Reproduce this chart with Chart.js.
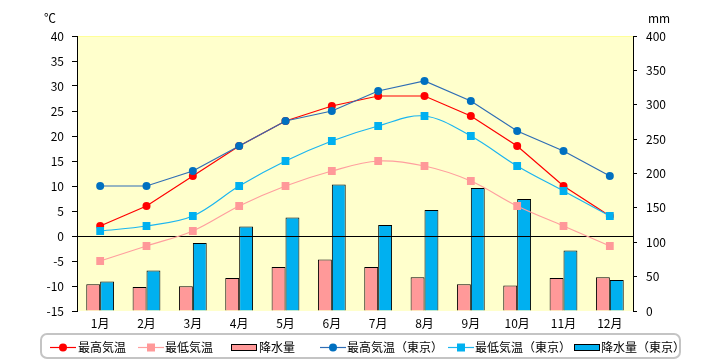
<!DOCTYPE html>
<html><head><meta charset="utf-8">
<script src="https://cdn.jsdelivr.net/npm/chart.js@4/dist/chart.umd.min.js"></script>
<style>html,body{margin:0;padding:0;background:#fff}canvas{display:block}</style>
</head><body>
<canvas id="c" width="720" height="360"></canvas>
<script>
const months = ['1月','2月','3月','4月','5月','6月','7月','8月','9月','10月','11月','12月'];
const maxTemp = [2, 6, 12, 18, 23, 26, 28, 28, 24, 18, 10, 4];
const minTemp = [-5, -2, 1, 6, 10, 13, 15, 14, 11, 6, 2, -2];
const rain = [39, 35, 36, 48, 64, 75, 64, 49, 39, 37, 48, 49];
const maxTempTokyo = [10, 10, 13, 18, 23, 25, 29, 31, 27, 21, 17, 12];
const minTempTokyo = [1, 2, 4, 10, 15, 19, 22, 24, 20, 14, 9, 4];
const rainTokyo = [43, 59, 99, 123, 136, 184, 125, 147, 179, 163, 88, 45];
const tempRange = {min: -15, max: 40, step: 5};
const rainRange = {min: 0, max: 400, step: 50};
const tempUnit = '℃';
const rainUnit = 'mm';

const FONT = '"Noto Sans CJK JP", "Noto Sans", sans-serif';

const datasets = [
  {type:'line', label:'最高気温', data:maxTemp, yAxisID:'y', order:4,
   borderColor:'#FF0000', backgroundColor:'#FF0000', borderWidth:1.2,
   pointStyle:'circle', pointRadius:4, pointBorderWidth:0, tension:0},
  {type:'line', label:'最低気温', data:minTemp, yAxisID:'y', order:3,
   borderColor:'#FF9F9F', backgroundColor:'#FF9999', borderWidth:1.2,
   pointStyle:'rect', pointRadius:5.5, pointBorderWidth:0, tension:0.35},
  {type:'bar', label:'降水量', data:rain, yAxisID:'y2', order:5,
   backgroundColor:'#FF9999', borderColor:'#000', borderWidth:1,
   categoryPercentage:0.6, barPercentage:1.0},
  {type:'line', label:'最高気温（東京）', data:maxTempTokyo, yAxisID:'y', order:2,
   borderColor:'#2F6DB5', backgroundColor:'#0070C0', borderWidth:1.2,
   pointStyle:'circle', pointRadius:4, pointBorderWidth:0, tension:0},
  {type:'line', label:'最低気温（東京）', data:minTempTokyo, yAxisID:'y', order:1,
   borderColor:'#1BB5F0', backgroundColor:'#00B0F0', borderWidth:1.2,
   pointStyle:'rect', pointRadius:5.5, pointBorderWidth:0, tension:0.35},
  {type:'bar', label:'降水量（東京）', data:rainTokyo, yAxisID:'y2', order:6,
   backgroundColor:'#00B0F0', borderColor:'#000', borderWidth:1,
   categoryPercentage:0.6, barPercentage:1.0}
];

// legend layout (symbol x, text x)
const legendSlots = [[50,78],[138,165],[231,259],[320,347],[448,475],[574,601]];

const decor = {
  id:'decor',
  beforeDraw(chart){
    const {ctx, chartArea:a} = chart;
    ctx.save();
    ctx.fillStyle = '#fff';
    ctx.fillRect(0,0,chart.width,chart.height);
    ctx.fillStyle = '#FFFFCC';
    ctx.fillRect(a.left, a.top, a.right-a.left, a.bottom-a.top);
    ctx.strokeStyle = '#FFFF99';
    ctx.lineWidth = 1;
    ctx.beginPath(); ctx.moveTo(a.left, a.top+0.5); ctx.lineTo(a.right, a.top+0.5); ctx.stroke();
    ctx.restore();
  },
  afterDatasetDraw(chart, args){
    if (args.meta.type !== 'bar') return;
    const {ctx, chartArea:a} = chart;
    const y0 = Math.round(chart.scales.y.getPixelForValue(0)) + 0.5;
    ctx.save();
    ctx.strokeStyle = '#000'; ctx.lineWidth = 1;
    ctx.beginPath(); ctx.moveTo(a.left, y0); ctx.lineTo(a.right, y0); ctx.stroke();
    ctx.restore();
  },
  afterDraw(chart){
    const {ctx} = chart;
    ctx.save();
    ctx.fillStyle = '#000';
    ctx.font = '12px ' + FONT;
    ctx.textBaseline = 'middle';
    ctx.textAlign = 'left';
    ctx.fillText(tempUnit, 44, 18);
    ctx.fillText(rainUnit, 648, 18);
    // legend box
    ctx.strokeStyle = '#C4C4C4'; ctx.lineWidth = 2;
    ctx.beginPath();
    ctx.roundRect(41, 334, 639, 24, 6);
    ctx.stroke();
    const cy = 347.5;
    chart.data.datasets.forEach((ds, i) => {
      const [sx, tx] = legendSlots[i];
      const w = 26;
      if (ds.type === 'bar') {
        ctx.fillStyle = ds.backgroundColor;
        ctx.fillRect(sx, cy-3.5, w, 7);
        ctx.strokeStyle = '#000'; ctx.lineWidth = 1;
        ctx.strokeRect(sx+0.5, cy-3, w-1, 6);
      } else {
        ctx.strokeStyle = ds.borderColor; ctx.lineWidth = 1.2;
        ctx.beginPath(); ctx.moveTo(sx, cy); ctx.lineTo(sx+w, cy); ctx.stroke();
        ctx.fillStyle = ds.backgroundColor;
        const mx = sx + w/2;
        if (ds.pointStyle === 'rect') {
          ctx.fillRect(mx-4, cy-4, 8, 8);
        } else {
          ctx.beginPath(); ctx.arc(mx, cy, 4, 0, Math.PI*2); ctx.fill();
        }
      }
      ctx.fillStyle = '#000';
      ctx.font = '12px ' + FONT;
      ctx.fillText(ds.label, tx, cy);
    });
    ctx.restore();
  }
};

new Chart(document.getElementById('c'), {
  data:{labels:months, datasets},
  options:{
    responsive:false, animation:false, devicePixelRatio:1,
    events:[],
    layout:{padding:{top:36, bottom:29, left:0, right:0}},
    plugins:{legend:{display:false}, tooltip:{enabled:false}},
    scales:{
      x:{
        grid:{display:false, drawTicks:false}, border:{display:false},
        ticks:{color:'#000', font:{family:FONT, size:12}, padding:5, maxRotation:0, autoSkip:false},
        afterFit(s){ s.height = 20; }
      },
      y:{
        position:'left', min:tempRange.min, max:tempRange.max,
        grid:{drawOnChartArea:false, drawTicks:true, tickLength:5, tickColor:'#000'},
        border:{color:'#000', width:1},
        ticks:{stepSize:tempRange.step, color:'#000', font:{family:FONT, size:12}, padding:8},
        afterFit(s){ s.width = 77; }
      },
      y2:{
        position:'right', min:rainRange.min, max:rainRange.max,
        grid:{drawOnChartArea:false, drawTicks:true, tickLength:4, tickColor:'#000'},
        border:{color:'#000', width:1},
        ticks:{stepSize:rainRange.step, color:'#000', font:{family:FONT, size:12}, padding:9},
        afterFit(s){ s.width = 87; }
      }
    }
  },
  plugins:[decor]
});
</script>
</body></html>
